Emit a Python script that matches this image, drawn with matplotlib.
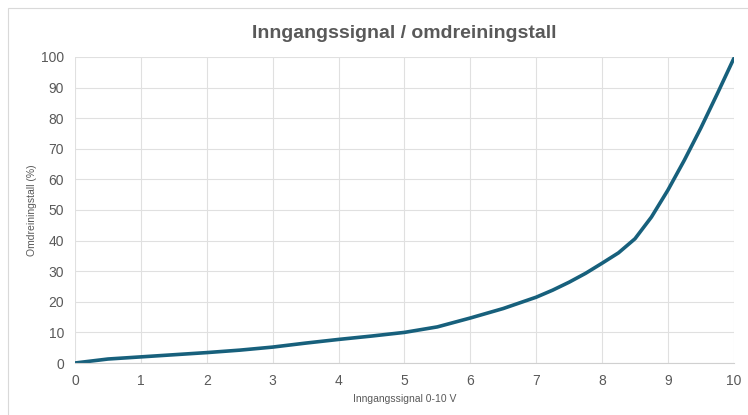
import matplotlib.pyplot as plt
from matplotlib.patches import Rectangle

plt.rcParams['font.family'] = ['Liberation Sans', 'DejaVu Sans']

# Data
signal_v = [0, 0.5, 1, 1.5, 2, 2.5, 3, 3.5, 4, 4.5, 5, 5.5, 6, 6.5,
            7, 7.25, 7.5, 7.75, 8, 8.25, 8.5, 8.75, 9, 9.25, 9.5, 9.75, 10]
speed_pct = [0, 1.3, 2.0, 2.7, 3.4, 4.2, 5.2, 6.5, 7.7, 8.8, 10.0, 11.8, 14.7, 17.8,
             21.5, 23.8, 26.4, 29.3, 32.6, 36.0, 40.6, 47.7, 56.5, 66.3, 76.8, 88.0, 99.5]
x_ticks = list(range(0, 11))
y_ticks = list(range(0, 101, 10))

text_col = '#595959'

fig = plt.figure(figsize=(7.48, 4.15), dpi=100)
fig.patches.append(Rectangle((0.011, -0.01), 1.0, 0.99, transform=fig.transFigure,
                             fill=False, edgecolor='#d9d9d9', linewidth=0.8))
ax = fig.add_axes([0.1003, 0.1253, 0.8807, 0.7374])

ax.plot(signal_v, speed_pct, color='#17607c', linewidth=2.6,
        solid_capstyle='round', solid_joinstyle='round')

ax.set_xlim(0, 10)
ax.set_ylim(0, 100)
ax.set_xticks(x_ticks)
ax.set_yticks(y_ticks)
ax.grid(True, color='#e0e0e0', linewidth=0.8)
ax.set_axisbelow(True)
for s in ['top', 'right', 'left']:
    ax.spines[s].set_visible(False)
ax.spines['bottom'].set_color('#d0d0d0')
ax.tick_params(length=0, labelsize=10, colors=text_col, pad=8)

ax.set_title('Inngangssignal / omdreiningstall', fontsize=14, fontweight='bold',
             color=text_col, pad=14)
ax.set_xlabel('Inngangssignal 0-10 V', fontsize=7.5, color=text_col, labelpad=4)
ax.set_ylabel('Omdreiningstall (%)', fontsize=7.5, color=text_col, labelpad=3)

fig.savefig('out.png', dpi=100)
